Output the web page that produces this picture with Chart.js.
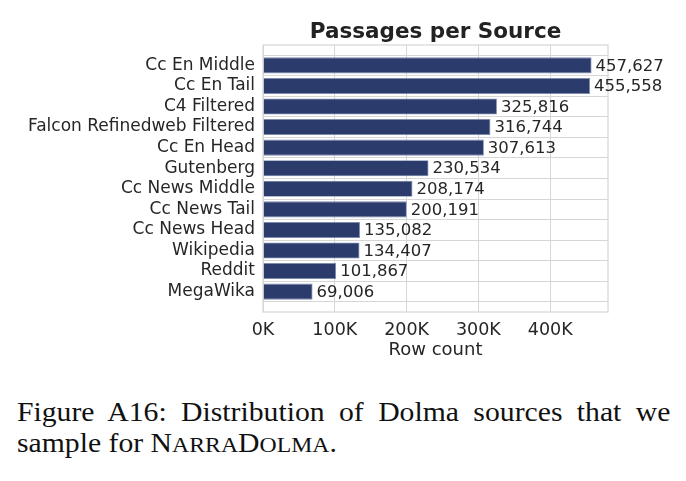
<!DOCTYPE html>
<html>
<head>
<meta charset="utf-8">
<script src="https://cdn.jsdelivr.net/npm/chart.js@4/dist/chart.umd.min.js"></script>
<style>
  body { margin: 0; background: #fff; width: 686px; height: 481px; overflow: hidden; }
  #wrap { position: absolute; left: 0; top: 0; width: 686px; height: 370px; }
  .cap {
    position: absolute; left: 17px; width: 594px;
    font-family: "Liberation Serif", "Times New Roman", serif;
    font-size: 27px; line-height: 31px; color: #111; white-space: nowrap;
    transform: scaleX(1.1); transform-origin: left top;
  }
  #cap1 { top: 397px; text-align: justify; text-align-last: justify; white-space: normal; }
  #cap2 { top: 428px; }
  .sc { font-size: 0.8em; }
</style>
</head>
<body>
<div id="wrap"><canvas id="sourceChart" width="686" height="370"></canvas></div>
<div class="cap" id="cap1">Figure A16: Distribution of Dolma sources that we</div>
<div class="cap" id="cap2">sample for N<span class="sc">ARRA</span>D<span class="sc">OLMA</span>.</div>
<script>
// ==========================================
// PASSAGES PER SOURCE (horizontal bar)
// ==========================================
const sources = [
  'Cc En Middle',
  'Cc En Tail',
  'C4 Filtered',
  'Falcon Refinedweb Filtered',
  'Cc En Head',
  'Gutenberg',
  'Cc News Middle',
  'Cc News Tail',
  'Cc News Head',
  'Wikipedia',
  'Reddit',
  'MegaWika',
];
const rowCounts = [
  457627, 455558, 325816, 316744, 307613, 230534, 208174, 200191, 135082,
  134407, 101867, 69006,
];
const xTicks = [0, 100000, 200000, 300000, 400000];

const font = 'DejaVu Sans';
const textColor = '#262626';
const gridColor = '#d6d6d6';

// title centred over the plot area + frame + value labels
const decorations = {
  id: 'decorations',
  afterDraw(chart) {
    const { ctx, chartArea } = chart;
    ctx.save();
    ctx.strokeStyle = gridColor;
    ctx.lineWidth = 1.2;
    ctx.strokeRect(chartArea.left, chartArea.top, chartArea.right - chartArea.left, chartArea.bottom - chartArea.top);

    ctx.fillStyle = '#222';
    ctx.font = 'bold 21.5px "' + font + '"';
    ctx.textAlign = 'center';
    ctx.textBaseline = 'alphabetic';
    ctx.fillText('Passages per Source', (chartArea.left + chartArea.right) / 2, 38);

    ctx.font = '16.5px "' + font + '"';
    ctx.textAlign = 'left';
    ctx.textBaseline = 'middle';
    ctx.fillStyle = textColor;
    chart.getDatasetMeta(0).data.forEach((bar, i) => {
      ctx.fillText(rowCounts[i].toLocaleString('en-US'), bar.x + 4, bar.y + 1);
    });
    ctx.restore();
  },
};

const sourceData = {
  datasets: [
    {
      label: 'Row count',
      data: rowCounts.map((v, i) => ({ x: v, y: i })),
      backgroundColor: '#2b3b6b',
      borderColor: '#7d8bb0',
      borderWidth: 0.8,
      barPercentage: 0.78,
      categoryPercentage: 1,
    },
  ],
};

const sourceConfig = {
  type: 'bar',
  data: sourceData,
  options: {
    indexAxis: 'y',
    responsive: false,
    animation: false,
    layout: { padding: { left: 0, top: 45, right: 78, bottom: 0 } },
    plugins: {
      legend: { display: false },
      title: { display: false },
      tooltip: { enabled: false },
    },
    scales: {
      y: {
        type: 'linear',
        reverse: true,
        offset: false,
        min: -0.99,
        max: 11.99,
        afterFit: (s) => { s.width = 263; },
        afterBuildTicks: (s) => { s.ticks = sources.map((_, i) => ({ value: i })); },
        grid: { color: gridColor, drawTicks: false },
        border: { display: false },
        ticks: {
          padding: 8,
          color: textColor,
          font: { family: font, size: 17 },
          callback: (v) => sources[v],
        },
      },
      x: {
        min: 0,
        max: 480500,
        offset: false,
        afterFit: (s) => { s.height = 58; },
        afterBuildTicks: (s) => { s.ticks = xTicks.map((v) => ({ value: v })); },
        grid: { color: gridColor, drawTicks: false },
        border: { display: false },
        ticks: {
          padding: 8,
          maxRotation: 0,
          color: textColor,
          font: { family: font, size: 17.5 },
          callback: (v) => v / 1000 + 'K',
        },
        title: {
          display: true,
          text: 'Row count',
          color: textColor,
          font: { family: font, size: 18 },
          padding: { top: 0, bottom: 9 },
        },
      },
    },
  },
  plugins: [decorations],
};

const sourceChart = new Chart(document.getElementById('sourceChart'), sourceConfig);
</script>
</body>
</html>
